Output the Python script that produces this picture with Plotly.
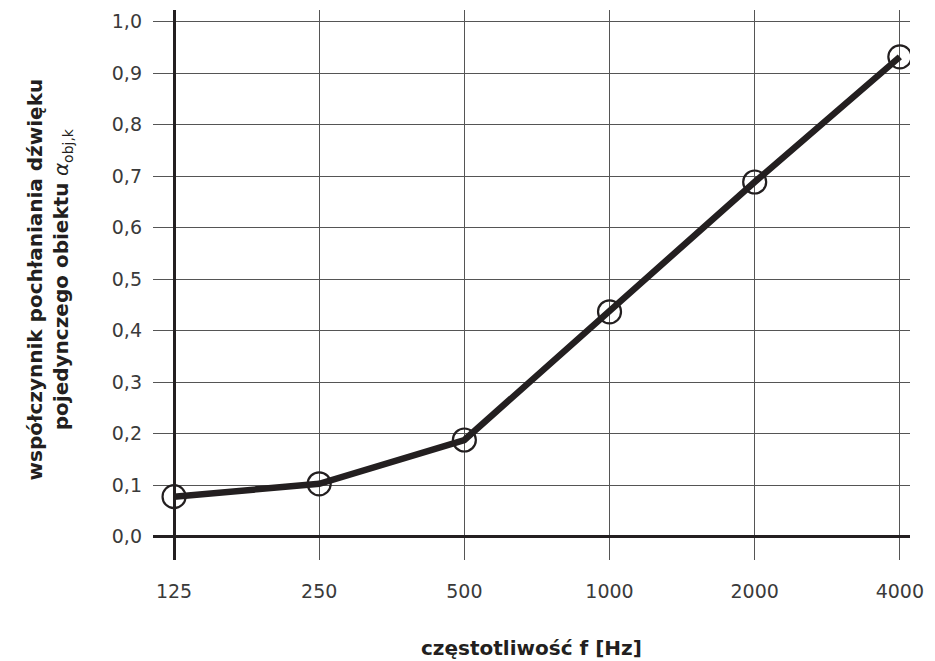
import plotly.graph_objects as go

freqs = ["125", "250", "500", "1000", "2000", "4000"]
alpha = [0.078, 0.103, 0.188, 0.437, 0.689, 0.932]
y_ticks = [0.0, 0.1, 0.2, 0.3, 0.4, 0.5, 0.6, 0.7, 0.8, 0.9, 1.0]
y_ticklabels = ["0,0", "0,1", "0,2", "0,3", "0,4", "0,5", "0,6", "0,7", "0,8", "0,9", "1,0"]

xi = list(range(len(freqs)))
FONT = "DejaVu Sans"
TFONT = "DejaVu Sans"
TXT = "#3a3a3a"

fig = go.Figure()
fig.add_trace(go.Scatter(
    x=xi, y=alpha, mode="lines+markers",
    line=dict(color="#231f20", width=6.5),
    marker=dict(symbol="circle-open", size=23, color="#231f20", line=dict(width=2.2, color="#231f20")),
    showlegend=False,
))

# page body has an 8px default margin; figure is sized to fill the remaining window
fig.update_layout(
    width=927, height=653,
    margin=dict(l=145, r=25, t=2, b=101),
    paper_bgcolor="white", plot_bgcolor="white",
    font=dict(family=FONT, size=19, color=TXT),
    xaxis=dict(
        range=[-0.145, 5.07], tickvals=xi, ticktext=freqs,
        showgrid=True, gridcolor="#555555", gridwidth=1.2,
        zeroline=True, zerolinecolor="#231f20", zerolinewidth=2.5,
        showline=False, ticks="", ticklabelstandoff=18, ticklabeloverflow="allow",
        tickfont=dict(family=FONT, size=19, color=TXT),
    ),
    yaxis=dict(
        range=[-0.045, 1.023], tickvals=y_ticks, ticktext=y_ticklabels,
        showgrid=True, gridcolor="#555555", gridwidth=1.2,
        zeroline=True, zerolinecolor="#231f20", zerolinewidth=2.5,
        showline=False, ticks="", ticklabelstandoff=10, ticklabeloverflow="allow",
        tickfont=dict(family=FONT, size=19, color=TXT),
    ),
    annotations=[
        dict(
            text="<b>współczynnik pochłaniania dźwięku</b><br><b>pojedynczego obiektu</b> <i>α</i><sub>obj,k</sub>",
            xref="paper", yref="paper", x=-0.1375, y=0.51,
            xanchor="center", yanchor="middle", textangle=-90, showarrow=False,
            font=dict(family=TFONT, size=20, color="#231f20"),
        ),
        dict(
            text="<b>częstotliwość f [Hz]</b>",
            xref="paper", yref="paper", x=0.5, y=-0.16,
            xanchor="center", yanchor="middle", showarrow=False,
            font=dict(family=TFONT, size=20, color="#231f20"),
        ),
    ],
)

fig.write_html("out.html")
